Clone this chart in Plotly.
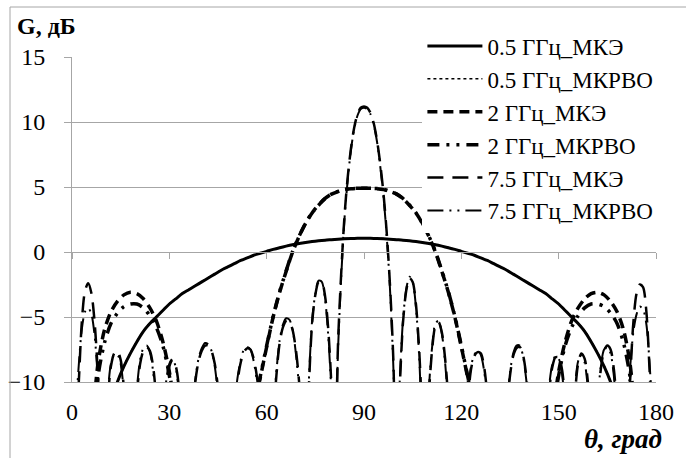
import plotly.graph_objects as go

# ---------------- data ----------------
theta_2deg = list(range(0, 181, 2))
theta_1deg = list(range(0, 181))

g05_mke = [
    -40, -28, -22, -18.5, -15.7, -13.4, -11.6, -10.0, -8.8, -7.8,
    -6.9, -6.1, -5.5, -5.0, -4.5, -4.0, -3.6, -3.2, -2.9, -2.6,
    -2.3, -2.0, -1.7, -1.4, -1.15, -0.9, -0.65, -0.45, -0.25, -0.1,
    0.05, 0.2, 0.33, 0.45, 0.56, 0.65, 0.73, 0.8, 0.86, 0.91,
    0.95, 0.99, 1.02, 1.04, 1.05, 1.05,
    1.05, 1.04, 1.02, 0.99, 0.95, 0.91, 0.86, 0.8, 0.73, 0.65,
    0.56, 0.45, 0.33, 0.2, 0.05, -0.1, -0.25, -0.45, -0.65, -0.9,
    -1.15, -1.4, -1.7, -2.0, -2.3, -2.6, -2.9, -3.2, -3.6, -4.0,
    -4.5, -5.0, -5.5, -6.1, -6.9, -7.8, -8.8, -10.0, -11.6, -13.4,
    -15.7, -18.5, -22, -28, -40,
]
g05_mkrvo = [
    -38, -27, -21.5, -18.2, -15.5, -13.3, -11.5, -9.95, -8.75, -7.75,
    -6.85, -6.05, -5.45, -4.95, -4.45, -3.97, -3.57, -3.18, -2.88, -2.58,
    -2.28, -1.98, -1.68, -1.38, -1.13, -0.88, -0.63, -0.43, -0.24, -0.09,
    0.06, 0.21, 0.34, 0.46, 0.57, 0.66, 0.74, 0.81, 0.87, 0.92,
    0.96, 1.0, 1.03, 1.05, 1.06, 1.06,
    1.06, 1.05, 1.03, 1.0, 0.96, 0.92, 0.87, 0.81, 0.74, 0.66,
    0.57, 0.46, 0.34, 0.21, 0.06, -0.09, -0.24, -0.43, -0.63, -0.88,
    -1.13, -1.38, -1.68, -1.98, -2.28, -2.58, -2.88, -3.18, -3.57, -3.97,
    -4.45, -4.95, -5.45, -6.05, -6.85, -7.75, -8.75, -9.95, -11.5, -13.3,
    -15.5, -18.2, -21.5, -27, -38,
]

g2_mke = [
    -13, -15, -19, -14, -8.6, -6.0, -4.6, -3.8, -3.3, -3.1,
    -3.2, -3.6, -4.3, -5.3, -6.9, -9.2, -12.8, -18, -22, -17,
    -15, -14.2, -14.5, -16, -20, -24, -19, -14.5, -12, -9.7,
    -7.3, -5.0, -3.1, -1.5, 0.0, 1.2, 2.2, 3.0, 3.6, 4.1,
    4.45, 4.65, 4.8, 4.87, 4.9, 4.9,
    4.9, 4.87, 4.8, 4.65, 4.45, 4.1, 3.6, 3.0, 2.2, 1.2,
    0.0, -1.5, -3.1, -5.0, -7.3, -9.7, -12, -14.5, -19, -24,
    -20, -16, -14.5, -14.2, -15, -17, -22, -18, -12.8, -9.2,
    -6.9, -5.3, -4.3, -3.6, -3.2, -3.1, -3.3, -3.8, -4.6, -6.0,
    -8.6, -14, -19, -15, -13,
]
g2_mkrvo = [
    -12, -14, -18, -15, -9.6, -7.0, -5.5, -4.7, -4.2, -4.0,
    -4.0, -4.3, -4.9, -5.8, -7.2, -9.5, -13, -19, -21, -16.5,
    -14.8, -14, -14.3, -16, -21, -23, -18.5, -14.3, -11.9, -9.6,
    -7.2, -4.95, -3.05, -1.45, 0.05, 1.22, 2.22, 3.02, 3.62, 4.12,
    4.47, 4.67, 4.82, 4.88, 4.9, 4.9,
    4.9, 4.88, 4.82, 4.67, 4.47, 4.12, 3.62, 3.02, 2.22, 1.22,
    0.05, -1.45, -3.05, -4.95, -7.2, -9.6, -11.9, -14.3, -18.5, -23,
    -21, -16, -14.3, -14, -14.8, -16.5, -21, -19, -13, -9.5,
    -7.2, -5.8, -4.9, -4.3, -4.0, -4.0, -4.2, -4.7, -5.5, -7.0,
    -9.6, -15, -18, -14, -12,
]

g75_mke = [
    -20, -15, -10.5, -5.5, -3.0, -2.4, -3.2, -5.5, -9.5, -15,
    -17, -11.5, -8.8, -7.8, -7.6, -8.3, -10.5, -15, -19, -15,
    -11, -8.6, -7.6, -7.3, -7.6, -8.8, -11.5, -17, -14, -10.5,
    -8.8, -8.3, -8.8, -10.5, -14, -20, -18, -13, -10, -8.4,
    -7.6, -7.2, -7.2, -7.6, -8.6, -10.5, -14, -20, -22, -17,
    -12.5, -10, -8.5, -7.7, -7.4, -7.5, -8.2, -9.6, -12, -17,
    -22, -18, -13, -9.5, -7, -5.8, -5.3, -5.3, -6, -7.5,
    -10, -14, -19, -10.5, -5.5, -3.3, -2.3, -2.3, -3.4, -6,
    -10.5, -17, -7, -1.5, 2.8, 5.8, 8.0, 9.6, 10.6, 11.1,
    11.2, 11.1, 10.7, 9.9, 8.6, 6.8, 4.5, 1.5, -2.5, -8,
    -17, -10.5, -5.5, -3, -2.0, -2.3, -4, -7.5, -13, -18,
    -11, -7.5, -5.7, -5.4, -6.2, -8.2, -11.5, -17, -22, -20,
    -19, -16, -11.5, -9, -8, -7.7, -7.8, -8.8, -11, -15,
    -20, -22, -20, -17, -12.5, -9.5, -8, -7.4, -7.3, -7.9,
    -9.5, -12.5, -18, -22, -21, -19, -16, -11, -8.9, -8.1,
    -8.1, -9, -11.5, -16, -15, -11, -8.6, -7.8, -8.2, -10,
    -14, -17, -12, -9, -7.6, -7.2, -7.5, -9, -12, -17,
    -20, -16, -10, -5.5, -3.2, -2.5, -2.7, -4.5, -9, -15, -20,
]
g75_mkrvo = [
    -18, -13, -9, -6, -4.6, -4.3, -4.8, -6.5, -10, -16,
    -16, -11, -8.6, -7.9, -7.9, -8.6, -11, -16, -18, -14,
    -10.5, -8.3, -7.4, -7.2, -7.7, -9.2, -12.5, -17, -13, -10,
    -8.6, -8.2, -8.9, -11, -15, -19, -17, -12.5, -9.8, -8.2,
    -7.4, -7.0, -7.1, -7.6, -8.8, -11, -15, -20, -21, -16,
    -12, -9.7, -8.3, -7.5, -7.3, -7.5, -8.4, -10, -13, -18,
    -21, -17, -12.5, -9.2, -6.8, -5.6, -5.1, -5.2, -6, -7.8,
    -10.5, -15, -18, -10, -5.3, -3.2, -2.2, -2.3, -3.6, -6.5,
    -11, -16, -7.5, -1.8, 2.6, 5.6, 7.9, 9.5, 10.5, 11.0,
    11.1, 11.0, 10.6, 9.8, 8.5, 6.6, 4.3, 1.2, -2.8, -8.5,
    -16, -10, -5.3, -2.9, -1.9, -2.3, -4.2, -8, -14, -17,
    -10.5, -7.3, -5.5, -5.3, -6.3, -8.5, -12, -18, -21, -19,
    -18, -15, -11, -8.8, -7.9, -7.6, -7.9, -9.1, -11.5, -16,
    -19, -21, -19, -16, -12, -9.3, -7.8, -7.2, -7.2, -8,
    -9.8, -13, -19, -21, -20, -18, -15, -10.5, -8.7, -8,
    -8.2, -9.3, -12, -15, -14, -10.5, -8.4, -7.9, -8.5, -10.5,
    -15, -16, -11.5, -8.8, -7.5, -7.3, -7.8, -9.5, -13, -17,
    -19, -14, -9, -6.2, -4.8, -4.2, -4.4, -5.5, -8.5, -13, -18,
]

names = ["0.5 ГГц_МКЭ", "0.5 ГГц_МКРВО", "2 ГГц_МКЭ", "2 ГГц_МКРВО",
         "7.5 ГГц_МКЭ", "7.5 ГГц_МКРВО"]
x_ticks = [0, 30, 60, 90, 120, 150, 180]
y_ticks = [-10, -5, 0, 5, 10, 15]

assert len(g05_mke) == len(g05_mkrvo) == len(g2_mke) == len(g2_mkrvo) == len(theta_2deg)
assert len(g75_mke) == len(g75_mkrvo) == len(theta_1deg)

# ---------------- figure ----------------
FONT = "Liberation Serif"
GRID = "#a6a6a6"
PW, PH = 584, 325   # plot area size in px

series = [
    (theta_2deg, g05_mke, dict(color="black", width=3, dash="solid")),
    (theta_2deg, g05_mkrvo, dict(color="black", width=1.5, dash="dot")),
    (theta_2deg, g2_mke, dict(color="black", width=3.5, dash="10px,6px")),
    (theta_2deg, g2_mkrvo, dict(color="black", width=3.5, dash="12px,7px,3px,7px,3px,7px")),
    (theta_1deg, g75_mke, dict(color="black", width=2.5, dash="16px,9px")),
    (theta_1deg, g75_mkrvo, dict(color="black", width=2, dash="16px,6px,2px,6px,2px,6px")),
]

fig = go.Figure()
for (xs, ys, ln), nm in zip(series, names):
    fig.add_trace(go.Scatter(x=xs, y=ys, mode="lines", name=nm,
                             line=dict(shape="spline", smoothing=0.8, **ln)))

# invisible trace to drive the crossing axis at y = 0 (with tick marks)
fig.add_trace(go.Scatter(x=[0, 180], y=[0, 0], xaxis="x2", mode="lines",
                         line=dict(width=0), showlegend=False, hoverinfo="skip"))

fig.update_layout(
    width=686, height=458,
    margin=dict(l=72, r=30, t=57, b=76, autoexpand=False),
    paper_bgcolor="white", plot_bgcolor="white",
    font=dict(family=FONT, size=24, color="black"),
    showlegend=True,
    legend=dict(x=0.6, y=1.1, xanchor="left", yanchor="top",
                bgcolor="white", borderwidth=0,
                font=dict(family=FONT, size=23, color="black"),
                itemwidth=55, tracegroupgap=0),
    xaxis=dict(range=[0, 180], tickvals=x_ticks, ticktext=[str(v) for v in x_ticks],
               showgrid=False, zeroline=False, showline=True, linecolor=GRID,
               linewidth=1, ticks="", ticklabelstandoff=8,
               tickfont=dict(family=FONT, size=24)),
    xaxis2=dict(range=[0, 180], tickvals=x_ticks, overlaying="x", anchor="free",
                position=0.4, side="bottom", showgrid=False, zeroline=False,
                showline=True, linecolor=GRID, linewidth=1, ticks="outside",
                ticklen=6, tickcolor=GRID, showticklabels=False),
    yaxis=dict(range=[-10, 15], tickvals=y_ticks, showgrid=True, gridcolor=GRID,
               gridwidth=1, zeroline=False, showline=True, linecolor=GRID,
               linewidth=1, ticks="outside", ticklen=7, tickcolor=GRID,
               ticklabelstandoff=14, tickfont=dict(family=FONT, size=24)),
)

# chart-area border (left and top edges visible)
fig.add_shape(type="line", xref="paper", yref="paper", x0=-62/PW, x1=-62/PW,
              y0=-80/PH, y1=(PH+50)/PH, line=dict(color=GRID, width=1))
fig.add_shape(type="line", xref="paper", yref="paper", x0=-62/PW, x1=(PW+34)/PW,
              y0=(PH+50)/PH, y1=(PH+50)/PH, line=dict(color=GRID, width=1))

fig.add_annotation(text="<b>G, дБ</b>", xref="paper", yref="paper",
                   x=-57/PW, y=(PH+46)/PH, xanchor="left", yanchor="top",
                   showarrow=False, font=dict(family=FONT, size=24, color="black"))
fig.add_annotation(text="<b><i>θ, град</i></b>", xref="paper", yref="paper",
                   x=(PW + 8)/PW, y=-40/PH, xanchor="right", yanchor="top",
                   showarrow=False, font=dict(family=FONT, size=27, color="black"))

fig.write_html("out.html", post_script="document.body.style.margin='0';",
               config={"displayModeBar": False})
